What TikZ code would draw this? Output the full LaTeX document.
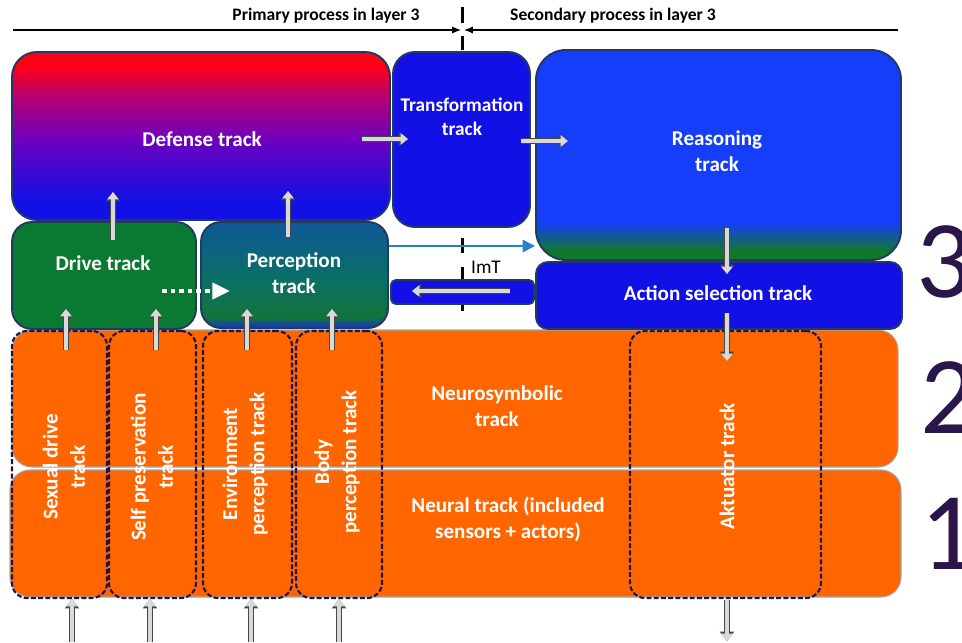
\documentclass[tikz,border=0pt]{standalone}
\usepackage{fontspec}
\setmainfont{Carlito}
\usetikzlibrary{arrows.meta,fit}

\definecolor{trackblue}{RGB}{18,16,228}
\definecolor{reasonblue}{RGB}{22,62,250}
\definecolor{reasongreen}{RGB}{16,120,40}
\definecolor{defred}{RGB}{255,0,20}
\definecolor{defmagenta}{RGB}{185,0,110}
\definecolor{defpurple}{RGB}{110,0,190}
\definecolor{percteal}{RGB}{14,88,150}
\definecolor{percmid}{RGB}{10,110,105}
\definecolor{percgreen}{RGB}{20,115,60}
\definecolor{percbottom}{RGB}{22,50,200}
\definecolor{drivegreen}{RGB}{10,122,50}
\definecolor{layerorange}{RGB}{255,102,0}
\definecolor{edgeblue}{RGB}{32,58,100}
\definecolor{dashnavy}{RGB}{30,22,72}
\definecolor{numpurple}{RGB}{42,22,72}
\definecolor{imtblue}{RGB}{40,130,200}

\pgfdeclareverticalshading{defenseshade}{100bp}{color(0bp)=(trackblue); color(31bp)=(trackblue); color(49bp)=(defpurple); color(62bp)=(defmagenta); color(71bp)=(defred); color(100bp)=(defred)}
\pgfdeclareverticalshading{reasonshade}{100bp}{color(0bp)=(reasongreen); color(27bp)=(reasongreen); color(34bp)=(reasonblue); color(100bp)=(reasonblue)}
\pgfdeclareverticalshading{perceptionshade}{100bp}{color(0bp)=(percbottom); color(25bp)=(percbottom); color(30bp)=(percgreen); color(50bp)=(percmid); color(75bp)=(percteal); color(100bp)=(percteal)}

\tikzset{
  trackbox/.style={draw=edgeblue, line width=1.1pt, inner sep=0pt},
  layerbox/.style={fill=layerorange, draw=gray!70, line width=0.6pt, rounded corners=0.4cm, inner sep=0pt},
  subtrack/.style={draw=dashnavy, line width=1.2pt, dash pattern=on 2.8pt off 1.3pt, rounded corners=0.3cm, inner sep=0pt},
  lbl/.style={text=white, font=\fontsize{12}{15}\selectfont\bfseries, align=center, inner sep=0pt},
  vlbl/.style={lbl, font=\fontsize{12}{15.5}\selectfont\bfseries, rotate=90},
  toplbl/.style={font=\fontsize{10}{12}\selectfont\bfseries, inner sep=0pt},
  bignum/.style={text=numpurple, font=\fontsize{63}{63}\selectfont, inner sep=0pt, anchor=west},
  divider/.style={line width=1.7pt},
  fatarrow/.style={line width=2.1pt, draw=gray!30, -{Triangle[length=4.2pt,width=6.4pt]},
    preaction={draw=gray!55!black, line width=3.3pt, -{Triangle[length=5.4pt,width=8pt]}}}
}

\begin{document}
\begin{tikzpicture}[x=0.02cm, y=-0.02cm]
  \useasboundingbox (0,0) rectangle (962,642);
  \fill[white] (0,0) rectangle (962,642);

  % split between primary and secondary process
  \draw[divider] (462.5,7) -- (462.5,23);
  \draw[divider] (462.5,36) -- (462.5,50);
  \draw[divider] (462.5,238) -- (462.5,253);
  \draw[divider] (462.5,267) -- (462.5,311);
  \coordinate (lineL) at (13,30);
  \coordinate (lineR) at (898,30);
  \coordinate (splitL) at (461,30);
  \coordinate (splitR) at (464,30);
  \draw[line width=0.6pt, -{Latex[length=5pt,width=4pt]}] (lineL) -- (splitL);
  \draw[line width=0.6pt, -{Latex[length=5pt,width=4pt]}] (lineR) -- (splitR);
  \node[toplbl] (primary) at (326,16) {Primary process in layer 3};
  \node[toplbl] (secondary) at (613,16) {Secondary process in layer 3};

  % layers 1 and 2
  \node[layerbox, fit={(10,470) (901,597)}] (neural) {};
  \node[layerbox, fit={(12,330) (898,467)}] (neurosym) {};
  \node[lbl] (neurosymlbl) at (497,406) {Neurosymbolic\\track};
  \node[lbl] (neurallbl) at (508,519) {Neural track (included\\sensors + actors)};

  \node[subtrack, fit={(12,331) (107,598)}] (sexual) {};
  \node[subtrack, fit={(109,331) (196,598)}] (selfpres) {};
  \node[subtrack, fit={(203,331) (292,598)}] (envperc) {};
  \node[subtrack, fit={(296,331) (382,598)}] (bodyperc) {};
  \node[subtrack, fit={(630,331) (821,598)}] (aktuator) {};
  \node[vlbl] (sexuallbl) at (64,467) {Sexual drive\\track};
  \node[vlbl] (selfpreslbl) at (152,467) {Self preservation\\track};
  \node[vlbl] (envperclbl) at (245,464) {Environment\\perception track};
  \node[vlbl] (bodyperclbl) at (337,462) {Body\\perception track};
  \node[vlbl] (aktuatorlbl) at (727,466) {Aktuator track};

  % layer 3
  \node[trackbox, rounded corners=0.5cm, shading=defenseshade, shade, fit={(12,52) (390,220)}] (defense) {};
  \node[trackbox, rounded corners=0.44cm, fill=trackblue, fit={(393,52) (530,227)}] (transform) {};
  \node[trackbox, rounded corners=0.6cm, shading=reasonshade, shade, fit={(536,50) (901,260)}] (reasoning) {};
  \node[trackbox, rounded corners=0.4cm, fill=drivegreen, fit={(12,222) (196,329)}] (drive) {};
  \node[trackbox, rounded corners=0.4cm, shading=perceptionshade, shade, fit={(201,222) (388,328)}] (perception) {};
  \node[trackbox, rounded corners=0.24cm, fill=trackblue, fit={(536,262) (902,329)}] (action) {};
  \node[trackbox, rounded corners=0.1cm, fill=trackblue, fit={(391,280) (534,304)}] (imt) {};

  \node[lbl] (defenselbl) at (202,139) {Defense track};
  \node[lbl, font=\fontsize{11}{13.6}\selectfont\bfseries] (transformlbl) at (462,117) {Transformation\\track};
  \node[lbl] (reasoninglbl) at (717,151) {Reasoning\\track};
  \node[lbl] (drivelbl) at (103,263) {Drive track};
  \node[lbl] (perceptionlbl) at (294,273) {Perception\\track};
  \node[lbl] (actionlbl) at (718,293) {Action selection track};
  \node[font=\fontsize{11}{13}\selectfont, inner sep=0pt] (imtlbl) at (486,267) {ImT};

  % big layer numbers
  \node[bignum] (num3) at (916,262) {3};
  \node[bignum] (num2) at (920,398) {2};
  \node[bignum] (num1) at (920,534) {1};

  % arrows
  \draw[imtblue, line width=0.8pt, -{Triangle[length=7pt,width=7pt]}] (perception.east |- 0,246) -- (reasoning.west |- 0,246);
  \draw[white, line width=2.5pt, dash pattern=on 2.6pt off 2.3pt, -{Triangle[length=10pt,width=9pt]}] (162,291) -- (230,291);

  \coordinate (defout) at (362,139);
  \coordinate (transin) at (408,139);
  \coordinate (transout) at (521,141);
  \coordinate (reasonin) at (568,141);
  \coordinate (driveout) at (113,240);
  \coordinate (defin1) at (113,192);
  \coordinate (percout) at (288,237);
  \coordinate (defin2) at (288,191);
  \coordinate (reasonout) at (727,228);
  \coordinate (actionin) at (727,274);
  \coordinate (actionout) at (727,313);
  \coordinate (aktin) at (727,361);
  \coordinate (aktout) at (727,600);
  \coordinate (motor) at (727,641);
  \coordinate (imtout) at (510,291);
  \coordinate (imtin) at (412,291);
  \draw[fatarrow] (defout) -- (transin);
  \draw[fatarrow] (transout) -- (reasonin);
  \draw[fatarrow] (driveout) -- (defin1);
  \draw[fatarrow] (percout) -- (defin2);
  \draw[fatarrow] (reasonout) -- (actionin);
  \draw[fatarrow] (actionout) -- (aktin);
  \draw[fatarrow] (aktout) -- (motor);
  \draw[fatarrow] (imtout) -- (imtin);
  \foreach \x in {66,156,247,332} {
    \draw[fatarrow] (\x,350) -- (\x,309);
  }
  \foreach \x in {72,150,251,339} {
    \draw[fatarrow] (\x,642) -- (\x,599);
  }
\end{tikzpicture}
\end{document}
